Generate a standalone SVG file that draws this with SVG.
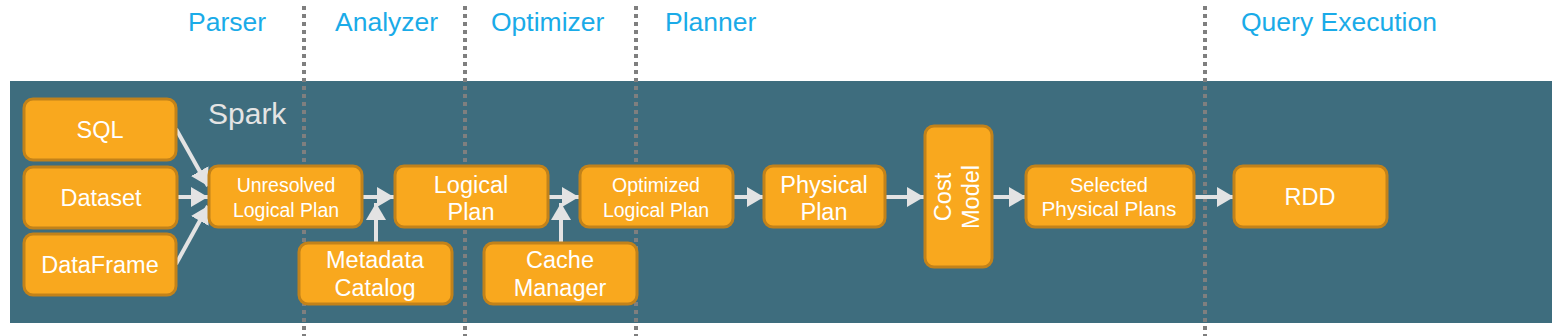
<svg xmlns="http://www.w3.org/2000/svg" width="1562" height="336" viewBox="0 0 1562 336">
<defs>
<style>
.box{fill:#F9A81E;stroke:#C2821A;stroke-width:3}
.t{font-family:"Liberation Sans",Arial,sans-serif;fill:#ffffff;text-anchor:middle;font-size:23.5px}
.ts{font-family:"Liberation Sans",Arial,sans-serif;fill:#ffffff;text-anchor:middle;font-size:19.5px}
.tc{font-family:"Liberation Sans",Arial,sans-serif;fill:#ffffff;text-anchor:middle;font-size:21px}
.phase{font-family:"Liberation Sans",Arial,sans-serif;fill:#1AABE8;font-size:26.5px}
.sep{stroke:#7F7F7F;stroke-width:4;stroke-dasharray:4 4}
.conn{stroke:#E3E3E3;stroke-width:4;fill:none}
</style>
<marker id="ah" markerUnits="userSpaceOnUse" markerWidth="18" markerHeight="20" viewBox="0 0 18 20" refX="17" refY="10" orient="auto">
<path d="M0,0 L17,10 L0,20 Z" fill="#E3E3E3"/>
</marker>
</defs>
<rect x="10" y="81" width="1542" height="242" fill="#3E6D7E"/>
<g id="separators">
<line class="sep" x1="304" y1="6" x2="304" y2="336"/>
<line class="sep" x1="465" y1="6" x2="465" y2="336"/>
<line class="sep" x1="636" y1="6" x2="636" y2="336"/>
<line class="sep" x1="1205" y1="6" x2="1205" y2="336"/>
</g>
<g id="phases">
<text class="phase" x="188" y="31">Parser</text>
<text class="phase" x="335" y="31">Analyzer</text>
<text class="phase" x="491" y="31">Optimizer</text>
<text class="phase" x="665" y="31">Planner</text>
<text class="phase" x="1241" y="31">Query Execution</text>
</g>
<text x="208" y="124" font-family="Liberation Sans, Arial, sans-serif" font-size="30" fill="#E4E4E4">Spark</text>
<g id="connectors">
<line class="conn" x1="176" y1="129" x2="208" y2="186" marker-end="url(#ah)"/>
<line class="conn" x1="177" y1="197" x2="208" y2="197" marker-end="url(#ah)"/>
<line class="conn" x1="176" y1="264" x2="208" y2="206" marker-end="url(#ah)"/>
<line class="conn" x1="363" y1="197" x2="394" y2="197" marker-end="url(#ah)"/>
<line class="conn" x1="376" y1="243" x2="376" y2="203" marker-end="url(#ah)"/>
<line class="conn" x1="548" y1="197" x2="579" y2="197" marker-end="url(#ah)"/>
<line class="conn" x1="561" y1="243" x2="561" y2="203" marker-end="url(#ah)"/>
<line class="conn" x1="733" y1="197" x2="764" y2="197" marker-end="url(#ah)"/>
<line class="conn" x1="885" y1="197" x2="924" y2="197" marker-end="url(#ah)"/>
<line class="conn" x1="993" y1="197" x2="1026" y2="197" marker-end="url(#ah)"/>
<line class="conn" x1="1194" y1="197" x2="1234" y2="197" marker-end="url(#ah)"/>
</g>
<g id="sql"><rect class="box" x="24" y="99" width="152" height="61" rx="9"/><text class="t" x="100" y="138">SQL</text></g>
<g id="dataset"><rect class="box" x="24" y="167" width="153" height="61" rx="9"/><text class="t" x="101" y="206">Dataset</text></g>
<g id="dataframe"><rect class="box" x="24" y="234" width="152" height="61" rx="9"/><text class="t" x="100" y="273">DataFrame</text></g>
<g id="unresolved"><rect class="box" x="209" y="166" width="153" height="61" rx="9"/><text class="ts" x="286" y="192">Unresolved</text><text class="ts" x="286" y="217">Logical Plan</text></g>
<g id="logical"><rect class="box" x="395" y="166" width="153" height="61" rx="9"/><text class="t" x="471" y="193">Logical</text><text class="t" x="471" y="220">Plan</text></g>
<g id="metadata"><rect class="box" x="299" y="243" width="153" height="61" rx="9"/><text class="t" x="375" y="268">Metadata</text><text class="t" x="375" y="296">Catalog</text></g>
<g id="cache"><rect class="box" x="484" y="243" width="153" height="61" rx="9"/><text class="t" x="560" y="268">Cache</text><text class="t" x="560" y="296">Manager</text></g>
<g id="optimized"><rect class="box" x="580" y="166" width="153" height="61" rx="9"/><text class="ts" x="656" y="192">Optimized</text><text class="ts" x="656" y="217">Logical Plan</text></g>
<g id="physical"><rect class="box" x="764" y="166" width="121" height="61" rx="9"/><text class="t" x="824" y="193">Physical</text><text class="t" x="824" y="220">Plan</text></g>
<g id="cost"><rect class="box" x="925" y="126" width="67" height="141" rx="9"/><text class="t" transform="translate(951,197) rotate(-90)" x="0" y="0">Cost</text><text class="t" transform="translate(979,197) rotate(-90)" x="0" y="0">Model</text></g>
<g id="selected"><rect class="box" x="1026" y="166" width="168" height="61" rx="9"/><text class="tc" x="1109" y="192" textLength="78" lengthAdjust="spacingAndGlyphs">Selected</text><text class="tc" x="1109" y="216" textLength="135" lengthAdjust="spacingAndGlyphs">Physical Plans</text></g>
<g id="rdd"><rect class="box" x="1234" y="166" width="153" height="61" rx="9"/><text class="t" x="1310" y="205">RDD</text></g>
</svg>
